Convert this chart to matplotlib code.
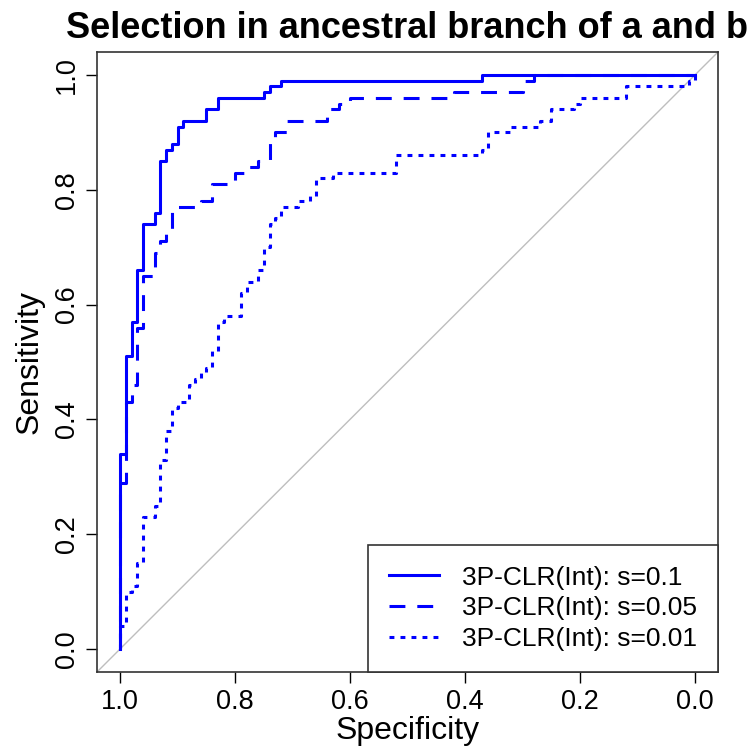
import matplotlib
matplotlib.use("Agg")
import matplotlib.pyplot as plt

plt.rcParams['font.family'] = ['Liberation Sans', 'DejaVu Sans']

# ROC corners (specificity, sensitivity) for each selection strength
spec_s01 = [1.0, 1.0, 0.99, 0.98, 0.97, 0.96, 0.94, 0.93, 0.92, 0.91, 0.90, 0.89,
            0.85, 0.83, 0.75, 0.74, 0.72, 0.37, 0.0]
sens_s01 = [0.0, 0.34, 0.51, 0.57, 0.66, 0.74, 0.76, 0.85, 0.87, 0.88, 0.91, 0.92,
            0.94, 0.96, 0.97, 0.98, 0.99, 1.0, 1.0]

spec_s005 = [1.0, 1.0, 0.99, 0.98, 0.97, 0.96, 0.94, 0.93, 0.92, 0.91, 0.86, 0.84,
             0.80, 0.78, 0.76, 0.74, 0.73, 0.71, 0.64, 0.62, 0.60, 0.42, 0.30, 0.28, 0.0]
sens_s005 = [0.0, 0.29, 0.43, 0.46, 0.56, 0.65, 0.69, 0.71, 0.73, 0.77, 0.78, 0.81,
             0.83, 0.84, 0.85, 0.89, 0.90, 0.92, 0.94, 0.95, 0.96, 0.97, 0.99, 1.0, 1.0]

spec_s001 = [1.0, 1.0, 0.99, 0.98, 0.97, 0.96, 0.94, 0.93, 0.92, 0.91, 0.90, 0.88,
             0.87, 0.86, 0.85, 0.84, 0.83, 0.82, 0.79, 0.78, 0.76, 0.75, 0.74, 0.73,
             0.72, 0.69, 0.67, 0.66, 0.63, 0.52, 0.37, 0.36, 0.32, 0.27, 0.25, 0.21,
             0.20, 0.12, 0.01, 0.0]
sens_s001 = [0.0, 0.04, 0.10, 0.11, 0.15, 0.23, 0.25, 0.33, 0.38, 0.42, 0.43, 0.46,
             0.47, 0.48, 0.49, 0.52, 0.57, 0.58, 0.62, 0.64, 0.66, 0.70, 0.74, 0.75,
             0.77, 0.78, 0.79, 0.82, 0.83, 0.86, 0.87, 0.90, 0.91, 0.92, 0.94, 0.95,
             0.96, 0.98, 0.99, 1.0]

labels = ['3P-CLR(Int): s=0.1', '3P-CLR(Int): s=0.05', '3P-CLR(Int): s=0.01']
ticks = [1.0, 0.8, 0.6, 0.4, 0.2, 0.0]

fig = plt.figure(figsize=(7.54, 7.51), dpi=100)
ax = fig.add_axes([97 / 754, 1 - 672 / 751, 621 / 754, 620 / 751])

# chance line
ax.axline((1, 0), (0, 1), color='#BEBEBE', lw=1, zorder=1)

lw = 2.2
ax.plot(spec_s01, sens_s01, drawstyle='steps-post', color='blue', lw=lw,
        label=labels[0])
ax.plot(spec_s005, sens_s005, drawstyle='steps-post', color='blue', lw=lw,
        linestyle=(0, (5.2, 3.9)), label=labels[1])
ax.plot(spec_s001, sens_s001, drawstyle='steps-post', color='blue', lw=lw,
        linestyle=(0, (1.6, 2.0)), label=labels[2])

ax.set_xlim(1.04, -0.04)
ax.set_ylim(-0.04, 1.04)
ax.set_xticks(ticks)
ax.set_xticklabels([f'{t:.1f}' for t in ticks], fontsize=19.5)
ax.set_yticks(ticks)
ax.set_yticklabels([f'{t:.1f}' for t in ticks], fontsize=19.5, rotation=90, va='center')
ax.tick_params(direction='out', length=8, width=1, pad=4)
for sp in ax.spines.values():
    sp.set_linewidth(1.2)
    sp.set_color('#333333')

ax.set_xlabel('Specificity', fontsize=23, labelpad=1)
ax.set_ylabel('Sensitivity', fontsize=23, labelpad=7)

fig.text(407.5 / 754, 1 - 29 / 751, 'Selection in ancestral branch of a and b',
         fontsize=26, fontweight='bold', ha='center', va='center')

leg = ax.legend(loc='lower right', bbox_to_anchor=(1, 0), borderaxespad=0,
                fontsize=19, fancybox=False, edgecolor='#333333', framealpha=1,
                handlelength=1.9, handletextpad=0.85, labelspacing=0.25,
                borderpad=0.8)
leg.get_frame().set_linewidth(1.2)

fig.savefig('out.png', dpi=100)
